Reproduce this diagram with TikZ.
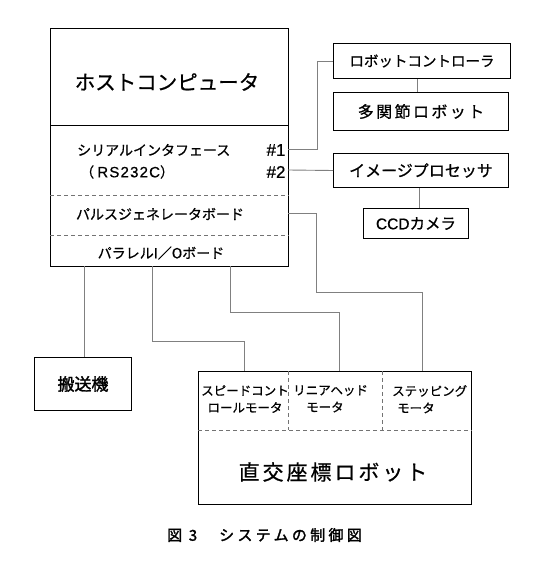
\documentclass[tikz,border=0pt]{standalone}
\usepackage{fontspec}
\newfontfamily\jp{Noto Sans CJK JP}[FakeBold=0.7]
\newfontfamily\jpb{Noto Sans CJK JP}[FakeBold=1.8]
\newfontfamily\lat{Liberation Sans}[FakeBold=0.7]
\begin{document}
\begin{tikzpicture}[x=1pt,y=-1pt,
 box/.style={draw=black, line width=1pt, inner sep=0pt, anchor=north west, align=center},
 conn/.style={draw=black!50, line width=0.9pt},
 sepline/.style={draw=black!55, line width=0.8pt, dash pattern=on 4pt off 3pt},
 lbl/.style={font=\jp\fontsize{14}{16}\selectfont, inner sep=0pt},
 mlbl/.style={font=\jp\fontsize{12.5}{17}\selectfont, inner sep=0pt, align=left, anchor=north west},
]
\useasboundingbox (0,0) rectangle (539,569);
% host computer
\node[box, minimum width=238pt, minimum height=238pt] (host) at (50,28) {};
\draw[line width=0.8pt] (host.west |- 0,125) -- (host.east |- 0,125);
\draw[sepline] (host.west |- 0,195) -- (host.east |- 0,195);
\draw[sepline] (host.west |- 0,235) -- (host.east |- 0,235);
\node[lbl, font=\jp\fontsize{20.5}{24}\selectfont] (hosttitle) at (167,82) {ホストコンピュータ};
\node[lbl, anchor=west] (serial) at (77,150) {シリアルインタフェース};
\node[lbl, anchor=west] (rs) at (80,172) {（ {\lat\fontsize{15}{16}\selectfont\addfontfeature{LetterSpace=8}RS232C}）};
\node[lbl, font=\lat\fontsize{17}{18}\selectfont] (n1) at (276,150) {\#1};
\node[lbl, font=\lat\fontsize{17}{18}\selectfont] (n2) at (276,172) {\#2};
\node[lbl] (pulse) at (160,214) {パルスジェネレータボード};
\node[lbl] (para) at (161,253) {パラレルI／Oボード};
% right column
\node[box, minimum width=177pt, minimum height=35pt, font=\jp\fontsize{14.5}{16}\selectfont] (rc) at (333,43) {ロボットコントローラ};
\node[box, minimum width=175pt, minimum height=38pt, font=\jp\fontsize{16}{18}\selectfont\addfontfeature{LetterSpace=15}] (mr) at (333,92) {多関節ロボット};
\node[box, minimum width=175pt, minimum height=34pt, font=\jp\fontsize{16}{18}\selectfont] (ip) at (333,153) {イメージプロセッサ};
\node[box, minimum width=105pt, minimum height=30pt, font=\jp\fontsize{15.5}{18}\selectfont] (ccd) at (363,208) {{\lat\fontsize{15.5}{18}\selectfont CCD}カメラ};
% bottom
\node[box, minimum width=97pt, minimum height=53pt, font=\jpb\fontsize{17}{18}\selectfont] (conv) at (34,357) {搬送機};
\node[box, minimum width=273pt, minimum height=133pt] (robot) at (198,371) {};
\draw[sepline] (robot.west |- 0,430) -- (robot.east |- 0,430);
\draw[sepline] (288,371) -- (288,430);
\draw[sepline] (382,371) -- (382,430);
\node[mlbl, align=center, anchor=north] (m1) at (245,385) {スピードコント\\ロールモータ};
\node[mlbl] (m2) at (293,385) {リニアヘッド\\\hspace*{13pt}モータ};
\node[mlbl] (m3) at (392,385) {ステッピング\\\hspace*{5pt}モータ};
\node[lbl, font=\jp\fontsize{21}{24}\selectfont\addfontfeature{LetterSpace=14}] (rtitle) at (333,472) {直交座標ロボット};
% caption
\node[lbl, anchor=west, font=\jpb\fontsize{15}{16}\selectfont\addfontfeature{LetterSpace=22}] (cap) at (167,535) {図 3\hspace{22pt}システムの制御図};
% ports
\coordinate (h1) at (288,149);
\coordinate (h2) at (288,170);
\coordinate (h3) at (288,213);
\coordinate (b1) at (84,266);
\coordinate (b2) at (152,266);
\coordinate (b3) at (230,266);
\coordinate (r1) at (244,371);
\coordinate (r2) at (339,371);
\coordinate (r3) at (422,371);
% connectors
\draw[conn] (h1) -- (317,149) |- (rc.west);
\draw[conn] (h2) -- (ip.west);
\draw[conn] (h3) -- (316,213) -- (316,292) -| (r3);
\draw[conn] (rc.south -| 417,0) -- (mr.north -| 417,0);
\draw[conn] (ip.south -| 419,0) -- (ccd.north -| 419,0);
\draw[conn] (b1) -- (conv.north -| b1);
\draw[conn] (b2) -- (152,341) -| (r1);
\draw[conn] (b3) -- (230,312) -| (r2);
\end{tikzpicture}
\end{document}
